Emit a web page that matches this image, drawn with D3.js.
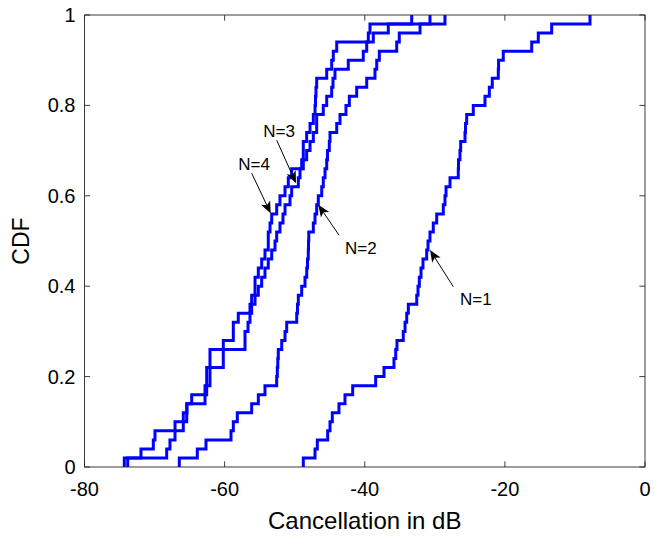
<!DOCTYPE html>
<html><head><meta charset="utf-8">
<script src="https://cdn.jsdelivr.net/npm/d3@7"></script>
<style>body{margin:0;background:#fff}svg{display:block}</style>
</head><body><svg id="c" width="654" height="538"></svg>
<script>
// Sorted samples (dB) of each empirical CDF, one value per 1/50 step
const samplesN1 = [-48.77,-47.10,-46.77,-45.29,-44.96,-44.63,-43.68,-42.82,-41.72,-38.44,
  -37.25,-35.83,-35.58,-35.40,-34.50,-34.25,-34.01,-33.78,-32.58,-32.40,
  -32.21,-31.97,-31.69,-31.16,-30.97,-30.69,-30.22,-29.73,-28.79,-28.55,
  -28.40,-27.83,-26.65,-26.62,-26.41,-26.31,-25.69,-25.62,-25.45,-24.51,
  -22.84,-22.22,-21.80,-20.94,-20.90,-20.23,-16.17,-15.23,-13.32,-7.85];
const samplesN2 = [-66.47,-63.90,-62.66,-59.09,-58.76,-58.19,-56.14,-55.19,-54.24,-52.57,
  -52.48,-52.41,-52.34,-51.85,-51.38,-51.14,-49.71,-49.60,-49.48,-49.00,
  -48.53,-48.28,-48.17,-48.06,-48.03,-47.99,-47.34,-47.10,-46.86,-46.63,
  -46.14,-45.92,-45.67,-45.43,-45.32,-45.06,-44.96,-44.00,-43.53,-42.68,
  -42.20,-41.15,-39.72,-38.54,-38.29,-37.92,-35.44,-35.07,-32.11,-28.55];
const samplesN3 = [-73.83,-68.27,-67.80,-67.08,-67.08,-65.90,-65.41,-62.80,-62.56,-62.09,
  -62.09,-62.09,-62.09,-57.09,-57.09,-56.66,-56.38,-56.14,-55.66,-55.19,
  -54.71,-54.24,-53.77,-53.28,-52.81,-52.57,-52.10,-51.67,-51.38,-50.67,
  -50.43,-49.48,-49.24,-48.77,-48.29,-47.81,-47.34,-46.86,-46.86,-45.92,
  -45.43,-44.72,-44.53,-44.25,-42.35,-40.21,-39.72,-38.78,-36.64,-30.69];
const samplesN4 = [-74.32,-71.94,-70.18,-69.94,-65.90,-65.41,-65.37,-64.70,-62.80,-62.56,
  -62.56,-60.19,-60.19,-60.19,-58.76,-58.76,-58.05,-56.38,-56.14,-55.66,
  -55.66,-55.19,-54.71,-54.24,-53.77,-53.77,-53.52,-53.28,-52.57,-52.10,
  -51.38,-50.91,-50.43,-49.00,-48.77,-48.77,-48.29,-47.81,-47.34,-47.10,
  -47.03,-46.96,-46.86,-45.43,-44.72,-44.49,-44.00,-39.49,-39.25,-33.30];

const xTicks = [-80,-60,-40,-20,0];
const xTickLabels = ["-80","-60","-40","-20","0"];
const yTicks = [0,0.2,0.4,0.6,0.8,1];
const yTickLabels = ["0","0.2","0.4","0.6","0.8","1"];
const xLabel = "Cancellation in dB";
const yLabel = "CDF";

// Annotations (data coordinates): label, text anchor point, arrow tail, arrow tip
const annotations = [
  {text:"N=1", tx:-26.41, ty:0.358, x0:-27.36, y0:0.399, x1:-30.69, y1:0.480},
  {text:"N=2", tx:-42.82, ty:0.471, x0:-43.68, y0:0.513, x1:-46.63, y1:0.580},
  {text:"N=3", tx:-54.48, ty:0.730, x0:-52.57, y0:0.723, x1:-49.81, y1:0.628},
  {text:"N=4", tx:-58.05, ty:0.657, x0:-56.14, y0:0.650, x1:-53.42, y1:0.561}
];

const W = 654, H = 538;
const m = {left:84.5, right:9, top:15, bottom:71};
const svg = d3.select("#c");
const x = d3.scaleLinear().domain([-80,0]).range([m.left, W-m.right]);
const y = d3.scaleLinear().domain([0,1]).range([H-m.bottom, m.top]);
const FONT = "'Liberation Sans', Arial, Helvetica, sans-serif";
const axisColor = "#262626";

// data lines
const line = d3.line().x(d=>x(d[0])).y(d=>y(d[1])).curve(d3.curveStepAfter);
function cdfPoints(s){
  const v = s.slice().sort((a,b)=>a-b), n = v.length;
  const pts = [[v[0],0]];
  v.forEach((d,i)=>pts.push([d,(i+1)/n]));
  return pts;
}
const g = svg.append("g");
[samplesN1,samplesN2,samplesN3,samplesN4].forEach(s=>{
  g.append("path").attr("d", line(cdfPoints(s)))
    .attr("fill","none").attr("stroke","#0000ff").attr("stroke-width",3)
    .attr("stroke-linejoin","miter");
});

// axes with inward ticks (box)
const tl = 5.6;
const ax = svg.append("g").attr("stroke",axisColor).attr("stroke-width",0.9).attr("fill","none");
ax.append("rect").attr("x",x(-80)).attr("y",y(1)).attr("width",x(0)-x(-80)).attr("height",y(0)-y(1));
xTicks.forEach(t=>{
  ax.append("line").attr("x1",x(t)).attr("x2",x(t)).attr("y1",y(0)).attr("y2",y(0)-tl);
  ax.append("line").attr("x1",x(t)).attr("x2",x(t)).attr("y1",y(1)).attr("y2",y(1)+tl);
});
yTicks.forEach(t=>{
  ax.append("line").attr("x1",x(-80)).attr("x2",x(-80)+tl).attr("y1",y(t)).attr("y2",y(t));
  ax.append("line").attr("x1",x(0)).attr("x2",x(0)-tl).attr("y1",y(t)).attr("y2",y(t));
});
const lab = svg.append("g").attr("font-family",FONT).attr("fill","#000");
xTicks.forEach((t,i)=>{
  lab.append("text").attr("x",x(t)).attr("y",y(0)+29).attr("text-anchor","middle")
    .attr("font-size",20).text(xTickLabels[i]);
});
yTicks.forEach((t,i)=>{
  lab.append("text").attr("x",x(-80)-9).attr("y",y(t)+7).attr("text-anchor","end")
    .attr("font-size",20).text(yTickLabels[i]);
});
lab.append("text").attr("x",(x(-80)+x(0))/2).attr("y",H-9).attr("text-anchor","middle")
  .attr("font-size",24).text(xLabel);
lab.append("text").attr("transform",`translate(${x(-80)-56},${(y(0)+y(1))/2}) rotate(-90)`)
  .attr("text-anchor","middle").attr("font-size",23).text(yLabel);

// annotations
const an = svg.append("g");
annotations.forEach(a=>{
  const X0=x(a.x0), Y0=y(a.y0), X1=x(a.x1), Y1=y(a.y1);
  const ang = Math.atan2(Y1-Y0, X1-X0);
  const L=12, Wd=5, back=9;
  const ux=Math.cos(ang), uy=Math.sin(ang), px=-uy, py=ux;
  const bx = X1-ux*back, by = Y1-uy*back;
  an.append("line").attr("x1",X0).attr("y1",Y0).attr("x2",bx).attr("y2",by)
    .attr("stroke","#000").attr("stroke-width",1);
  const p1=[X1-ux*L+px*Wd, Y1-uy*L+py*Wd], p2=[X1-ux*L-px*Wd, Y1-uy*L-py*Wd];
  an.append("path").attr("d",`M${X1},${Y1}L${p1}L${bx},${by}L${p2}Z`).attr("fill","#000");
  an.append("text").attr("x",x(a.tx)).attr("y",y(a.ty)).attr("font-family",FONT)
    .attr("font-size",17).attr("fill","#000").text(a.text);
});
</script></body></html>
